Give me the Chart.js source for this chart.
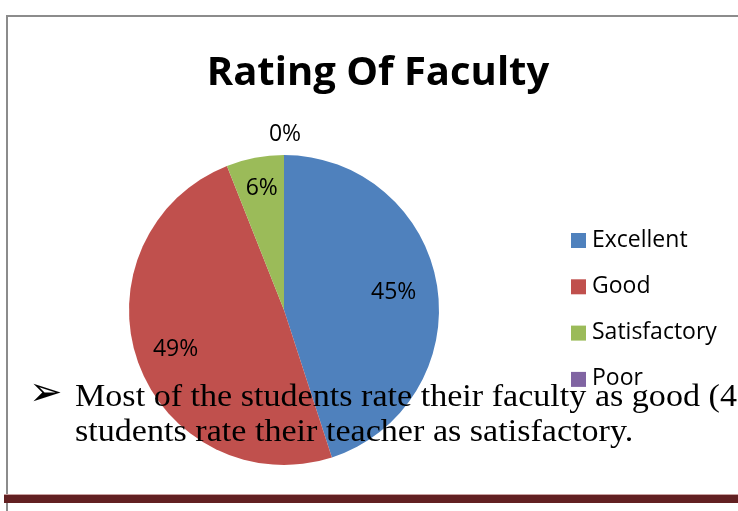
<!DOCTYPE html>
<html>
<head>
<meta charset="utf-8">
<script src="https://cdn.jsdelivr.net/npm/chart.js@4.4.1/dist/chart.umd.min.js"></script>
<style>
  html, body { margin: 0; padding: 0; background: #fff; }
  #wrap { position: relative; width: 738px; height: 511px; overflow: hidden; }
  #frame { position: absolute; left: 6px; top: 15px; width: 740px; height: 520px;
           border-top: 2px solid #8c8c8c; border-left: 2px solid #8c8c8c; }
  #rule { position: absolute; left: 4px; top: 494px; width: 740px; height: 8px; background: #622022;
          border-top: 1px solid #c9a0a0; }
  #chart { position: absolute; left: 0; top: 0; }
  #title { position: absolute; left: 0; width: 756px; top: 42px; text-align: center;
           font-family: "Open Sans", sans-serif; font-weight: bold; font-size: 40px; color: #000; }
  .note { position: absolute; font-family: "Liberation Serif", serif; font-size: 31px; color: #000;
          white-space: nowrap; transform: scaleX(1.1); transform-origin: left top; }
  #arrow { position: absolute; left: 29px; top: 368px; font-family: "DejaVu Sans", sans-serif; font-size: 40px; }
</style>
</head>
<body>
<div id="wrap">
  <div id="frame"></div>
  <canvas id="chart" width="738" height="511"></canvas>
  <div id="title">Rating Of Faculty</div>
  <div id="arrow">➢</div>
  <div class="note" style="left:75px; top:378px;">Most of the students rate their faculty as good (49%)</div>
  <div class="note" style="left:75px; top:413px;">students rate their teacher as satisfactory.</div>
  <div id="rule"></div>
</div>
<script>
// Rating Of Faculty - pie chart
const categories = ['Excellent', 'Good', 'Satisfactory', 'Poor'];
const shares = [45, 49, 6, 0];
const sliceColors = ['#4F81BD', '#C0504D', '#9BBB59', '#8064A2'];

// draws the percent labels at each slice and a legend on the right
const labelPlugin = {
  id: 'sliceLabels',
  afterDatasetsDraw(chart) {
    const ctx = chart.ctx;
    const meta = chart.getDatasetMeta(0);
    const inside = [0.71, 0.75, 0.8];
    ctx.save();
    ctx.font = '23px "Open Sans", sans-serif';
    ctx.fillStyle = '#000';
    ctx.textAlign = 'center';
    ctx.textBaseline = 'middle';
    meta.data.forEach((arc, i) => {
      const mid = (arc.startAngle + arc.endAngle) / 2;
      const r = shares[i] > 0 ? arc.outerRadius * inside[i] : arc.outerRadius + 21;
      const x = arc.x + Math.cos(mid) * r;
      const y = arc.y + Math.sin(mid) * r;
      ctx.fillText(shares[i] + '%', x + 1, y);
    });

    // legend
    ctx.textAlign = 'left';
    categories.forEach((name, i) => {
      const y = 240 + i * 46.3;
      ctx.fillStyle = sliceColors[i];
      ctx.fillRect(571, y - 7, 15, 15);
      ctx.fillStyle = '#000';
      ctx.fillText(name, 592, y);
    });
    ctx.restore();
  }
};

new Chart(document.getElementById('chart'), {
  type: 'pie',
  data: {
    labels: categories,
    datasets: [{
      data: shares,
      backgroundColor: sliceColors,
      borderWidth: 0,
    }],
  },
  options: {
    responsive: false,
    animation: false,
    layout: {
      padding: { left: 128, right: 298, top: 155, bottom: 46 },
    },
    plugins: {
      legend: { display: false },
      tooltip: { enabled: false },
      title: { display: false },
    },
  },
  plugins: [labelPlugin],
});
</script>
</body>
</html>
